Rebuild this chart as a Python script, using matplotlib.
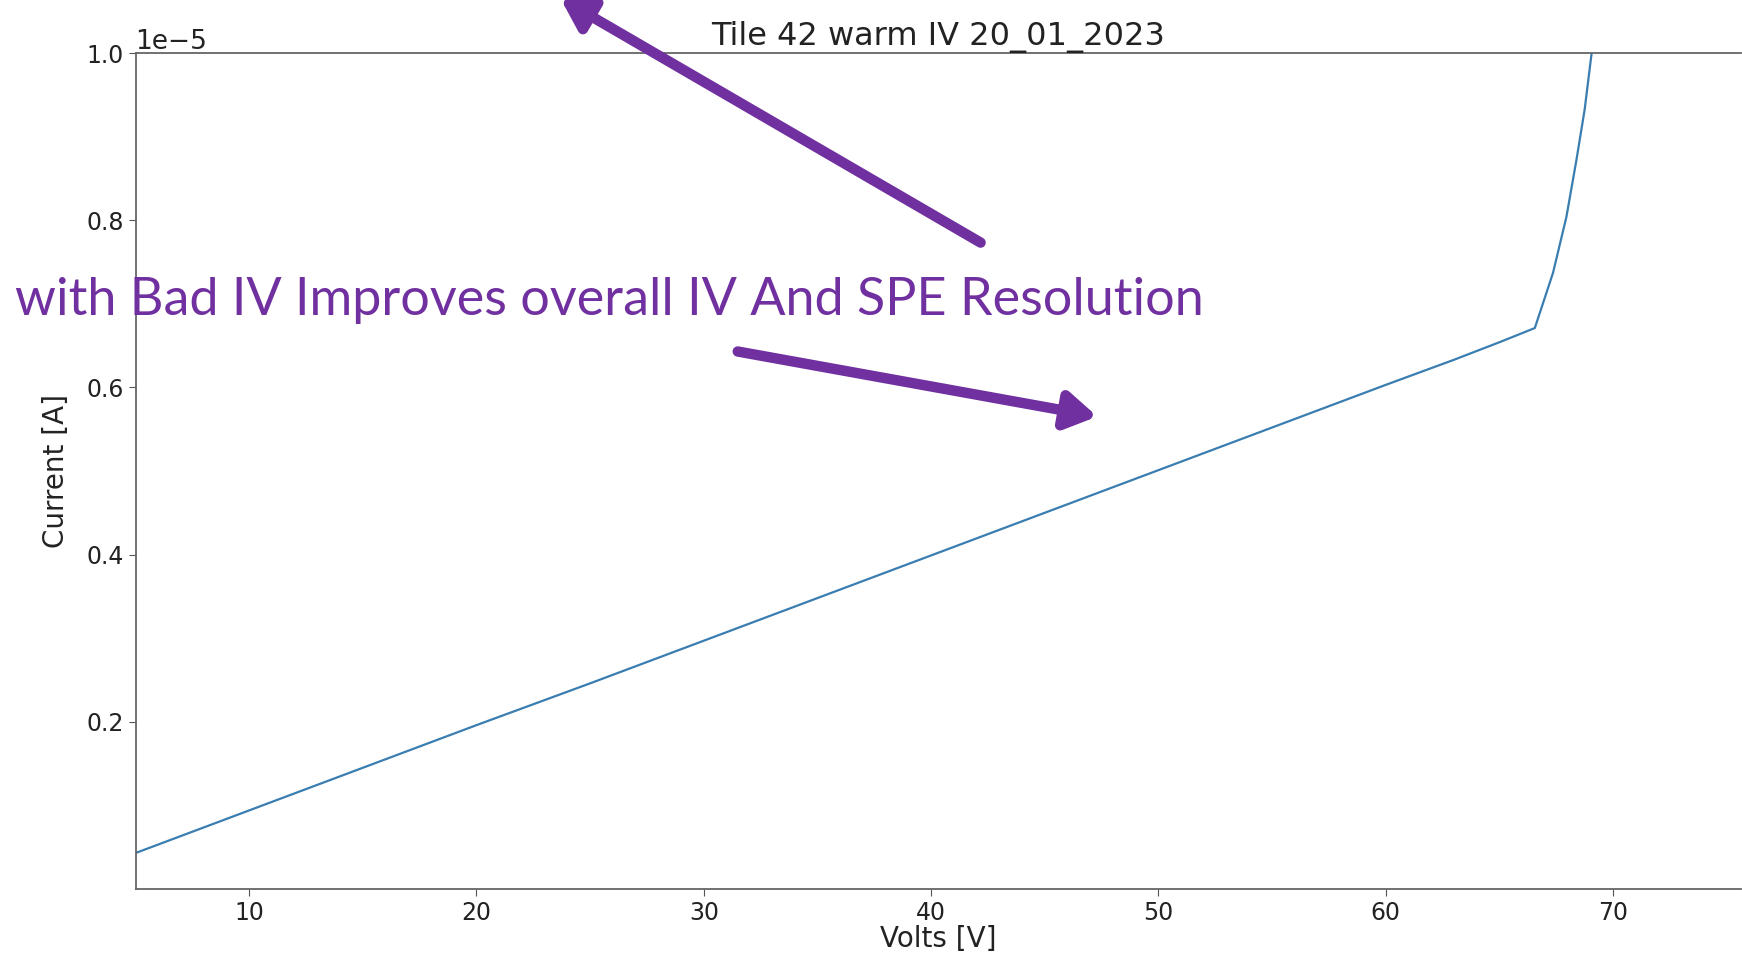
import matplotlib
matplotlib.use('Agg')
import matplotlib.pyplot as plt
from matplotlib.patches import FancyArrowPatch
import numpy as np

# IV curve (volts, current in units of 1e-5 A)
volts = [5, 10, 15, 20, 25, 30, 35, 40, 45, 50, 55, 60, 63, 65, 66.56,
         67.36, 67.95, 68.39, 68.75, 69.05, 69.4]
current = [0.043, 0.094, 0.145, 0.196, 0.246, 0.297, 0.348, 0.399, 0.450,
           0.501, 0.552, 0.603, 0.633, 0.654, 0.671,
           0.737, 0.804, 0.872, 0.932, 0.998, 1.06]

title = 'Tile 42 warm IV 20_01_2023'
note = 'with Bad IV Improves overall IV And SPE Resolution'
purple = '#7030a0'

W, H = 1742, 964
fig = plt.figure(figsize=(W / 100, H / 100), dpi=100)
ax = fig.add_axes([135.5 / W, 1 - 889 / H, (1741 - 135.5) / W, (889 - 53) / H])

ax.plot(volts, np.array(current) * 1e-5, color='#3a7db0', lw=1.6)
ax.set_xlim(5, 75.63)
ax.set_ylim(0, 1e-5)
ax.set_xticks([10, 20, 30, 40, 50, 60, 70])
ax.set_yticks([0.2e-5, 0.4e-5, 0.6e-5, 0.8e-5, 1.0e-5])
ax.tick_params(labelsize=17, length=5, color='#555555', labelcolor='#222222')
ax.yaxis.get_offset_text().set_fontsize(19)
ax.set_title(title, fontsize=23, color='#222222', pad=4)
ax.set_xlabel('Volts [V]', fontsize=20, color='#222222', labelpad=0)
ax.set_ylabel('Current [A]', fontsize=20, color='#222222', labelpad=12)
for s in ax.spines.values():
    s.set_color('#666666')
    s.set_linewidth(1.3)
# screenshot is cropped just before the right edge of the axes
ax.spines['right'].set_visible(False)

# overlay annotation from the slide
fig.text(15 / W, 1 - 300 / H, note, fontsize=37.5, color=purple,
         family='Lato', va='center', ha='left')


def fig_arrow(x0, y0, x1, y1):
    a = FancyArrowPatch((x0 / W, 1 - y0 / H), (x1 / W, 1 - y1 / H),
                        transform=fig.transFigure,
                        arrowstyle='-|>,head_length=0.9,head_width=0.55',
                        mutation_scale=20, lw=7.5, color=purple)
    fig.patches.append(a)


fig_arrow(983, 244, 558, -3)
fig_arrow(735, 351, 1100, 417)

fig.savefig('out.png', dpi=100)
